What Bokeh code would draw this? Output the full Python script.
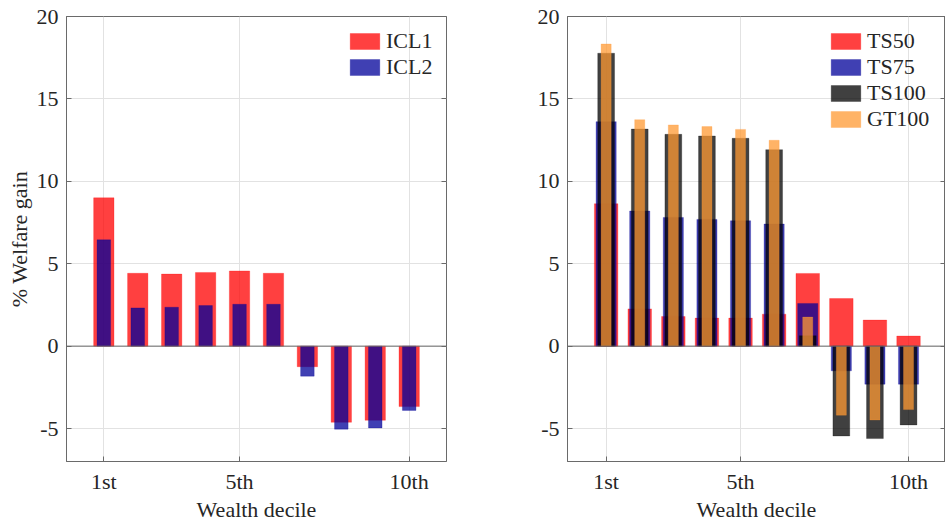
from bokeh.plotting import figure
from bokeh.layouts import row
from bokeh.models import FixedTicker, Span, Legend, LegendItem, Range1d, Title, LinearAxis
from bokeh.embed import file_html
from bokeh.resources import INLINE

# ---------------- data ----------------
deciles = [1, 2, 3, 4, 5, 6, 7, 8, 9, 10]
x_ticks = [1, 5, 10]
x_tick_labels = ["1st", "5th", "10th"]
y_ticks = [-5, 0, 5, 10, 15, 20]
y_tick_labels = ["-5", "0", "5", "10", "15", "20"]

ICL1 = [9.00, 4.42, 4.37, 4.47, 4.56, 4.42, -1.25, -4.62, -4.50, -3.67]
ICL2 = [6.45, 2.32, 2.36, 2.46, 2.54, 2.54, -1.82, -5.04, -4.96, -3.90]

TS50 = [8.64, 2.26, 1.80, 1.70, 1.70, 1.94, 4.41, 2.89, 1.58, 0.61]
TS75 = [13.62, 8.20, 7.81, 7.69, 7.61, 7.41, 2.59, -1.50, -2.31, -2.31]
TS100 = [17.77, 13.17, 12.85, 12.75, 12.61, 11.92, 0.63, -5.45, -5.61, -4.78]
GT100 = [18.33, 13.74, 13.42, 13.32, 13.15, 12.49, 1.76, -4.19, -4.48, -3.85]

FONT = "Liberation Serif"
AX = "#6a6a6a"
TXT = "#262626"
GRID = "#e2e2e2"


def style(p):
    p.outline_line_color = AX
    p.outline_line_width = 1
    p.xaxis.ticker = FixedTicker(ticks=x_ticks)
    p.xaxis.major_label_overrides = {t: l for t, l in zip(x_ticks, x_tick_labels)}
    p.yaxis.ticker = FixedTicker(ticks=y_ticks)
    p.yaxis.major_label_overrides = {t: l for t, l in zip(y_ticks, y_tick_labels)}
    for ax in (p.xaxis[0], p.yaxis[0]):
        ax.axis_line_color = AX
        ax.major_tick_line_color = AX
        ax.major_tick_in = 5
        ax.major_tick_out = 0
        ax.minor_tick_line_color = None
        ax.major_label_text_font = FONT
        ax.major_label_text_font_size = "22px"
        ax.major_label_text_color = TXT
        ax.major_label_standoff = 8
    xa = p.xaxis[0]
    xa.major_label_standoff = 7
    xa.axis_label = "Wealth decile"
    xa.axis_label_text_font = FONT
    xa.axis_label_text_font_size = "22px"
    xa.axis_label_text_font_style = "normal"
    xa.axis_label_text_color = TXT
    xa.axis_label_standoff = 0
    # mirrored ticks on the right edge (box style)
    ra = LinearAxis(ticker=FixedTicker(ticks=y_ticks),
                    major_label_overrides={t: "" for t in y_ticks},
                    axis_line_color=None, major_tick_line_color=AX,
                    major_tick_in=5, major_tick_out=0, minor_tick_line_color=None,
                    major_label_standoff=0)
    p.add_layout(ra, "right")
    p.xgrid.grid_line_color = GRID
    p.ygrid.grid_line_color = GRID
    p.xgrid.ticker = FixedTicker(ticks=x_ticks)
    p.ygrid.ticker = FixedTicker(ticks=y_ticks)
    p.add_layout(Span(location=0, dimension="width", line_color=AX, line_width=1))


def legend(p, items, loc):
    lg = Legend(items=items, location=loc)
    lg.border_line_color = None
    lg.background_fill_alpha = 0
    lg.glyph_width = 37
    lg.glyph_height = 20
    lg.label_standoff = 3
    lg.padding = 0
    lg.spacing = 0
    lg.margin = 0
    lg.label_text_font = FONT
    lg.label_text_font_size = "22px"
    lg.label_text_color = TXT
    lg.label_text_line_height = 0.95
    lg.label_height = 20
    p.add_layout(lg)


# ---------------- left panel ----------------
p1 = figure(width=520, height=524, output_backend="svg", toolbar_location=None,
            x_range=Range1d(-0.1, 11.1), y_range=Range1d(-7, 20),
            min_border_left=66, min_border_right=74, min_border_top=16, min_border_bottom=63)
style(p1)
p1.add_layout(Title(text="% Welfare gain", align="center", offset=18, standoff=3,
                    text_font=FONT, text_font_size="22px", text_font_style="normal",
                    text_color=TXT), "left")
r_icl1 = p1.vbar(x=deciles, top=ICL1, bottom=0, width=0.6, fill_color="#ff0000", fill_alpha=0.75,
                 line_color="#ff0000", line_alpha=0.25)
r_icl2 = p1.vbar(x=deciles, top=ICL2, bottom=0, width=0.4, fill_color="#000099", fill_alpha=0.75,
                 line_color="#000099", line_alpha=0.25)
legend(p1, [LegendItem(label="ICL1", renderers=[r_icl1]),
            LegendItem(label="ICL2", renderers=[r_icl2])], (280, 381))

# ---------------- right panel ----------------
p2 = figure(width=425, height=524, output_backend="svg", toolbar_location=None,
            x_range=Range1d(-0.15, 11.1), y_range=Range1d(-7, 20),
            min_border_left=47, min_border_right=0, min_border_top=16, min_border_bottom=63)
style(p2)
r_ts50 = p2.vbar(x=deciles, top=TS50, bottom=0, width=0.7, fill_color="#ff0000", fill_alpha=0.75,
                 line_color="#ff0000", line_alpha=0.25)
r_ts75 = p2.vbar(x=deciles, top=TS75, bottom=0, width=0.6, fill_color="#000099", fill_alpha=0.75,
                 line_color="#000099", line_alpha=0.25)
r_ts100 = p2.vbar(x=deciles, top=TS100, bottom=0, width=0.5, fill_color="#000000", fill_alpha=0.75,
                  line_color="#000000", line_alpha=0.25)
r_gt100 = p2.vbar(x=deciles, top=GT100, bottom=0, width=0.3, fill_color="#ff9933", fill_alpha=0.75,
                  line_color="#ff9933", line_alpha=0.25)
legend(p2, [LegendItem(label="TS50", renderers=[r_ts50]),
            LegendItem(label="TS75", renderers=[r_ts75]),
            LegendItem(label="TS100", renderers=[r_ts100]),
            LegendItem(label="GT100", renderers=[r_gt100])], (260, 329))

layout = row(p1, p2)
open("out.html", "w").write(file_html(layout, INLINE))
